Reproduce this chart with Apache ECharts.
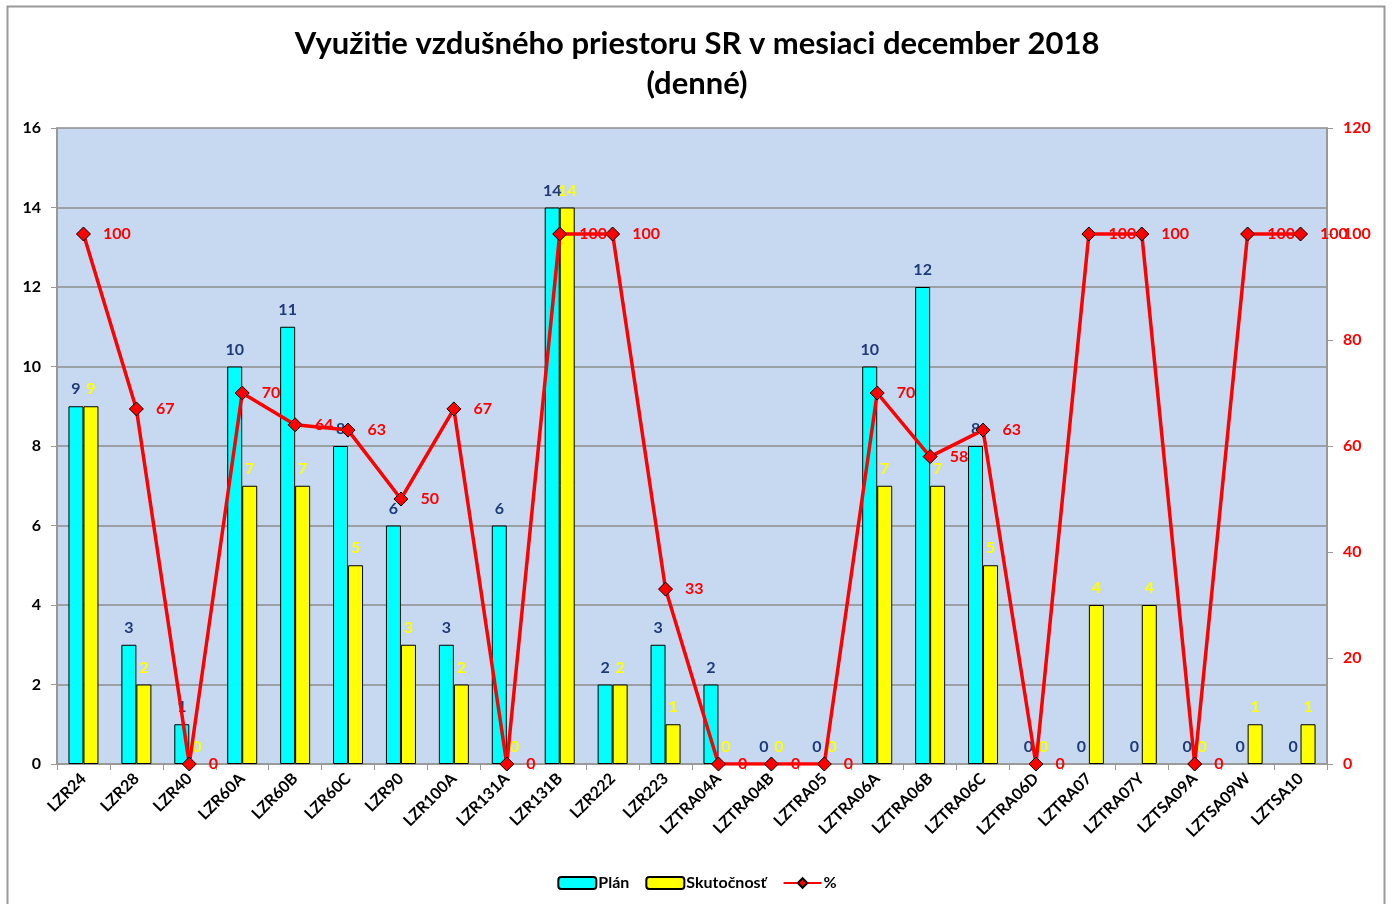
<!DOCTYPE html>
<html>
<head>
<meta charset="utf-8">
<script src="https://cdn.jsdelivr.net/npm/echarts@6/dist/echarts.min.js"></script>
<style>
  html, body { margin: 0; padding: 0; background: #fff; }
  #chart { width: 1394px; height: 904px; }
</style>
</head>
<body>
<div id="chart"></div>
<script>
  // kategorie (zony)
  var categories = ['LZR24', 'LZR28', 'LZR40', 'LZR60A', 'LZR60B', 'LZR60C', 'LZR90', 'LZR100A',
    'LZR131A', 'LZR131B', 'LZR222', 'LZR223', 'LZTRA04A', 'LZTRA04B', 'LZTRA05', 'LZTRA06A',
    'LZTRA06B', 'LZTRA06C', 'LZTRA06D', 'LZTRA07', 'LZTRA07Y', 'LZTSA09A', 'LZTSA09W', 'LZTSA10'];
  var plan = [9, 3, 1, 10, 11, 8, 6, 3, 6, 14, 2, 3, 2, 0, 0, 10, 12, 8, 0, 0, 0, 0, 0, 0];
  var skutocnost = [9, 2, 0, 7, 7, 5, 3, 2, 0, 14, 2, 1, 0, 0, 0, 7, 7, 5, 0, 4, 4, 0, 1, 1];
  var percento = [100, 67, 0, 70, 64, 63, 50, 67, 0, 100, 100, 33, 0, 0, 0, 70, 58, 63, 0, 100, 100, 0, 100, 100];
  var leftTicks = { min: 0, max: 16, interval: 2 };
  var rightTicks = { min: 0, max: 120, interval: 20 };

  var font = 'Lato, "Open Sans", sans-serif';
  var chart = echarts.init(document.getElementById('chart'));

  // nulove stlpce bez okraja (ako v Exceli)
  function barData(arr) {
    return arr.map(function (v) {
      return v === 0 ? { value: v, itemStyle: { borderWidth: 0 } } : v;
    });
  }

  var option = {
    animation: false,
    backgroundColor: '#ffffff',
    title: {
      text: 'Využitie vzdušného priestoru SR v mesiaci december 2018\n(denné)',
      left: 'center',
      top: 19,
      textStyle: {
        fontFamily: font,
        fontSize: 31,
        fontWeight: 'bold',
        color: '#000',
        lineHeight: 40
      }
    },
    graphic: [{
      type: 'rect',
      shape: { x: 7.5, y: 6.5, width: 1377, height: 920 },
      style: { fill: null, stroke: '#999', lineWidth: 2 },
      silent: true
    }],
    legend: {
      top: 870,
      left: 'center',
      itemGap: 16,
      itemWidth: 38,
      itemHeight: 12,
      textStyle: { fontFamily: font, fontSize: 16, fontWeight: 'bold', color: '#000', padding: [0, 0, 0, -3] },
      data: ['Plán', 'Skutočnosť', '%']
    },
    grid: {
      left: 57,
      right: 67,
      top: 128,
      bottom: 140,
      show: true,
      backgroundColor: '#c6d9f0',
      borderWidth: 0
    },
    xAxis: {
      type: 'category',
      data: categories,
      axisLine: { lineStyle: { color: '#999', width: 2 } },
      axisTick: { show: true, alignWithLabel: false, length: 6, lineStyle: { color: '#999' } },
      axisLabel: {
        rotate: 45,
        fontFamily: font,
        fontSize: 16,
        fontWeight: 'bold',
        color: '#000',
        margin: 12,
        interval: 0
      }
    },
    yAxis: [{
      type: 'value',
      min: leftTicks.min,
      max: leftTicks.max,
      interval: leftTicks.interval,
      axisLine: { show: true, lineStyle: { color: '#999', width: 2 } },
      axisTick: { show: true, length: 6, lineStyle: { color: '#999' } },
      splitLine: { lineStyle: { color: '#8c8c8c', width: 1.5 } },
      axisLabel: { fontFamily: font, fontSize: 16, fontWeight: 'bold', color: '#000', margin: 16 }
    }, {
      type: 'value',
      min: rightTicks.min,
      max: rightTicks.max,
      interval: rightTicks.interval,
      axisLine: { show: true, lineStyle: { color: '#999', width: 2 } },
      axisTick: { show: true, length: 6, lineStyle: { color: '#999' } },
      splitLine: { show: false },
      axisLabel: { fontFamily: font, fontSize: 16, fontWeight: 'bold', color: '#ff0000', margin: 16 }
    }],
    series: [{
      name: 'Plán',
      type: 'bar',
      data: barData(plan),
      barWidth: 15,
      barGap: '0%',
      itemStyle: { color: '#00ffff', borderColor: '#000', borderWidth: 1 },
      label: {
        show: true,
        position: 'top',
        distance: 9,
        fontFamily: font,
        fontSize: 16,
        fontWeight: 'bold',
        color: '#1f3a78'
      }
    }, {
      name: 'Skutočnosť',
      type: 'bar',
      data: barData(skutocnost),
      barWidth: 15,
      itemStyle: { color: '#ffff00', borderColor: '#000', borderWidth: 1 },
      label: {
        show: true,
        position: 'top',
        distance: 9,
        fontFamily: font,
        fontSize: 16,
        fontWeight: 'bold',
        color: '#ffff00'
      }
    }, {
      name: '%',
      type: 'line',
      yAxisIndex: 1,
      data: percento,
      symbol: 'diamond',
      symbolSize: 14,
      lineStyle: { color: '#ff0000', width: 3.5 },
      itemStyle: { color: '#ff0000', borderColor: '#000', borderWidth: 1 },
      label: {
        show: true,
        position: 'right',
        distance: 12,
        fontFamily: font,
        fontSize: 16,
        fontWeight: 'bold',
        color: '#ff0000'
      },
      z: 5
    }]
  };

  chart.setOption(option);
</script>
</body>
</html>
